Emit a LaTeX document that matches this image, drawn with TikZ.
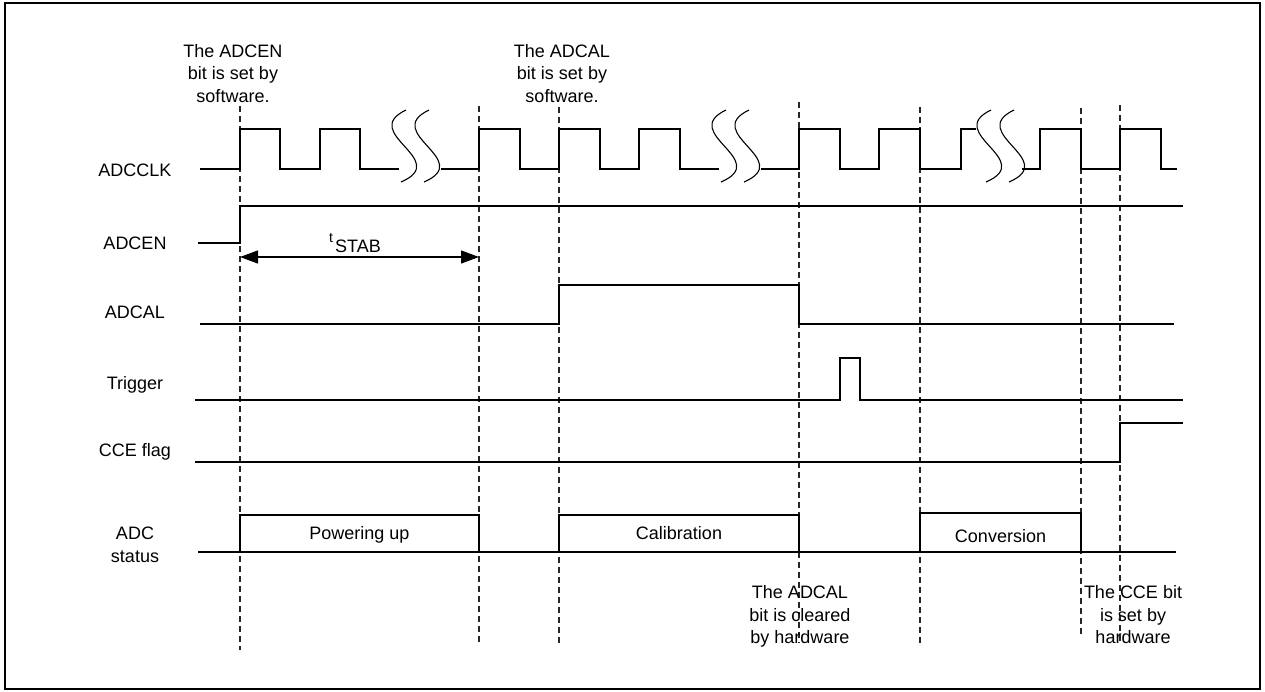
\documentclass[tikz,border=0pt]{standalone}
\usepackage{fontspec}
\setmainfont{Liberation Sans}
\usetikzlibrary{arrows.meta}
\begin{document}
\begin{tikzpicture}[x=1pt,y=-1pt,
  sig/.style={line width=1.1pt, line join=miter},
  vdash/.style={line width=1.1pt, black!85, dash pattern=on 6pt off 4pt},
  txt/.style={font=\fontsize{18}{22.5}\selectfont, inner sep=0pt, align=center},
  brk/.style={line width=1.1pt},
]
\useasboundingbox (0,0) rectangle (1265,691);
\draw[line width=2pt] (5,3) rectangle (1260,689);

% dashed time markers
\foreach \n/\x/\t/\b in {1/240/106/650, 2/479/106/642, 3/559/107/645, 4/799/102/643, 5/920/107/643, 6/1081/108/635, 7/1120/105/643}{
  \coordinate (d\n t) at (\x,\t);
  \coordinate (d\n b) at (\x,\b);
  \draw[vdash] (d\n t) -- (d\n b);
}

% signal labels
\node[txt,anchor=base] (lclk) at (135,176.5) {ADCCLK};
\node[txt,anchor=base] (len) at (135,249.5) {ADCEN};
\node[txt,anchor=base] (lcal) at (135,318) {ADCAL};
\node[txt,anchor=base] (ltrig) at (135,389) {Trigger};
\node[txt,anchor=base] (lcce) at (135,456) {CCE flag};
\node[txt,anchor=north] (lstat) at (135,527) {ADC\\status};

% ADCCLK
\draw[sig] (200,169) -- (240,169) -- (240,129) -- (280,129) -- (280,169) -- (320,169) -- (320,129) -- (360,129) -- (360,169) -- (399,169);
\draw[sig] (441,169) -- (479,169) -- (479,129) -- (520,129) -- (520,169) -- (559,169) -- (559,129) -- (600,129) -- (600,169) -- (639,169) -- (639,129) -- (680,129) -- (680,169) -- (719,169);
\draw[sig] (761,169) -- (799,169) -- (799,129) -- (840,129) -- (840,169) -- (879,169) -- (879,129) -- (920,129) -- (920,169) -- (961,169) -- (961,129) -- (976,129);
\draw[sig] (1022,169) -- (1040,169) -- (1040,129) -- (1081,129) -- (1081,169) -- (1120,169) -- (1120,129) -- (1161,129) -- (1161,169) -- (1177,169);
% break marks
\foreach \o in {0,320,585}{
  \draw[brk] (406+\o,110) .. controls (358+\o,133) and (452+\o,160) .. (401+\o,182);
  \draw[brk] (429+\o,110) .. controls (381+\o,133) and (475+\o,160) .. (424+\o,182);
}

% ADCEN
\draw[sig] (198,243) -- (240,243) -- (240,206) -- (1183,206);
\coordinate (sa) at (240,257);
\coordinate (sb) at (479,257);
\draw[line width=1.1pt, {Triangle[length=18pt,width=13pt]}-{Triangle[length=18pt,width=13pt]}] (sa) -- (sb);
\node[txt,anchor=base west] (tstab) at (329,252.7) {\raisebox{10pt}{\fontsize{14}{14}\selectfont t}\kern2pt STAB};

% ADCAL
\draw[sig] (200,324) -- (559,324) -- (559,285) -- (799,285) -- (799,324) -- (1174,324);

% Trigger
\draw[sig] (195,400) -- (840,400) -- (840,358) -- (860,358) -- (860,400) -- (1183,400);

% CCE flag
\draw[sig] (195,462) -- (1120,462) -- (1120,423) -- (1183,423);

% ADC status
\draw[sig] (198,552) -- (1176,552);
\draw[sig] (240,552) -- (240,515) -- (479,515) -- (479,552);
\draw[sig] (559,552) -- (559,515) -- (799,515) -- (799,552);
\draw[sig] (920,552) -- (920,513) -- (1081,513) -- (1081,552);
\node[txt,anchor=base] (npw) at (359.5,539.3) {Powering up};
\node[txt,anchor=base] (ncal) at (679,539) {Calibration};
\node[txt,anchor=base] (ncon) at (1000.5,542.7) {Conversion};

% annotations
\node[txt,anchor=north] (nadcen) at (233,44) {The ADCEN\\bit is set by\\software.};
\node[txt,anchor=north] (nadcal) at (562,44) {The ADCAL\\bit is set by\\software.};
\node[txt,anchor=north] (nclr) at (800,585.5) {The ADCAL\\bit is cleared\\by hardware};
\node[txt,anchor=north] (ncce) at (1133,585.5) {The CCE bit\\is set by\\hardware};
\end{tikzpicture}
\end{document}
